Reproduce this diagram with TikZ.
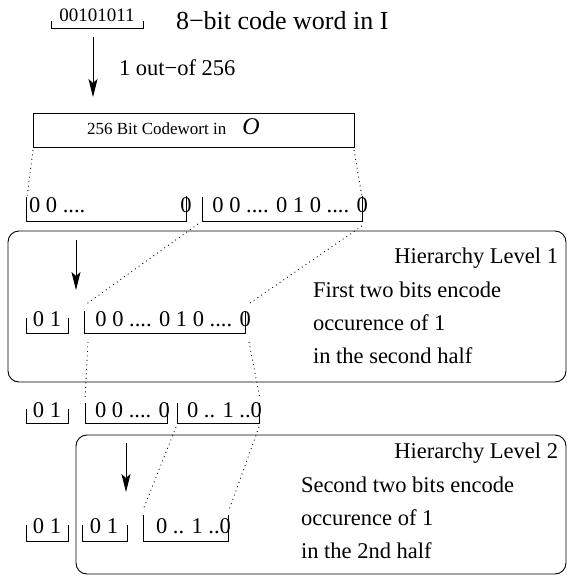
\documentclass[tikz,border=0pt]{standalone}
\usepackage{fontspec}
\setmainfont{Liberation Serif}
\usetikzlibrary{arrows.meta}
\begin{document}
\begin{tikzpicture}[x=1pt,y=-1pt,
  every node/.style={inner sep=0pt,outer sep=0pt},
  txt/.style={font=\fontsize{22.5}{27}\selectfont},
  smalltxt/.style={font=\fontsize{19}{22}\selectfont},
  bigtxt/.style={font=\fontsize{26}{31}\selectfont},
  boxtxt/.style={font=\fontsize{17}{20}\selectfont},
  brk/.style={line width=0.9pt},
  dots/.style={line width=0.9pt, dash pattern=on 0.9pt off 3.6pt},
  arr/.style={line width=0.9pt,-{Stealth[length=18pt,width=9pt,inset=4pt]}},
  level/.style={draw,line width=0.9pt,rounded corners=11pt,anchor=north west},
]
\useasboundingbox (0,0) rectangle (571,576);

% top code word
\node[smalltxt,anchor=base] (code) at (97,21) {00101011};
\draw[brk] (51,21) |- (143,28) -- (143,21);
\node[bigtxt,anchor=base west] (codelbl) at (176,29) {8−bit code word in I};

% arrow 1
\coordinate (a1s) at (93,37);
\coordinate (a1e) at (93,97);
\draw[arr] (a1s) -- (a1e);
\node[txt,anchor=base west] (a1lbl) at (119,75) {1 out−of 256};

% 256 bit box
\node[draw,brk,anchor=north west,minimum width=321pt,minimum height=34pt] (box) at (33,113) {};
\node[boxtxt,anchor=base west] (boxlbl) at (87,134) {256 Bit Codewort in\hspace{16pt}{\fontsize{24}{28}\selectfont\itshape O}};

% row 1
\draw[brk] (26,197) |- (186,221) -- (186,196);
\node[txt,anchor=base west] (r1a) at (29,212) {0 0 ....};
\node[txt,anchor=base] (r1b) at (186,212) {0};
\draw[brk] (202,197) |- (362,221) -- (362,196);
\node[txt,anchor=base east] (r1c) at (368,212) {0 0 .... 0 1 0 .... 0};

% dotted from box to row 1
\coordinate (d1s) at (33,150); \coordinate (d1e) at (27,197);
\coordinate (d2s) at (354,150); \coordinate (d2e) at (362,197);
\draw[dots] (d1s) -- (d1e);
\draw[dots] (d2s) -- (d2e);

% level 1 box
\node[level,minimum width=558pt,minimum height=151pt] (lev1) at (8,231) {};
\coordinate (a2s) at (76,240);
\coordinate (a2e) at (76,290);
\draw[arr] (a2s) -- (a2e);
\node[txt,anchor=base east] (h1) at (558,263) {Hierarchy Level 1};
\node[txt,anchor=base west] (t1a) at (313,297) {First two bits encode};
\node[txt,anchor=base west] (t1b) at (313,330) {occurence of 1};
\node[txt,anchor=base west] (t1c) at (313,363) {in the second half};

% level 1 row
\draw[brk] (26,318) |- (68,333) -- (68,318);
\node[txt,anchor=base] (l1a) at (47,326) {0 1};
\draw[brk] (84,311) |- (245,333) -- (245,311);
\node[txt,anchor=base east] (l1b) at (251,326) {0 0 .... 0 1 0 .... 0};

% dotted row 1 -> level 1
\coordinate (d3s) at (198,224); \coordinate (d3e) at (85,305);
\coordinate (d4s) at (362,226); \coordinate (d4e) at (250,303);
\draw[dots] (d3s) -- (d3e);
\draw[dots] (d4s) -- (d4e);

% dotted level 1 -> row 2
\coordinate (d5s) at (88,342); \coordinate (d5e) at (85,399);
\coordinate (d6s) at (249,342); \coordinate (d6e) at (260,399);
\draw[dots] (d5s) -- (d5e);
\draw[dots] (d6s) -- (d6e);

% row 2
\draw[brk] (26,409) |- (68,423) -- (68,409);
\node[txt,anchor=base] (r2a) at (47,417) {0 1};
\draw[brk] (85,403) |- (167,423) -- (167,403);
\node[txt,anchor=base east] (r2b) at (170,417) {0 0 .... 0};
\draw[brk] (177,403) |- (259,423) -- (259,403);
\node[txt,anchor=base east] (r2c) at (262,417) {0 .. 1 ..0};

% level 2 box
\node[level,minimum width=490pt,minimum height=139pt] (lev2) at (76,435) {};
\coordinate (a3s) at (126,443);
\coordinate (a3e) at (126,492);
\draw[arr] (a3s) -- (a3e);
\node[txt,anchor=base east] (h2) at (558,458) {Hierarchy Level 2};
\node[txt,anchor=base west] (t2a) at (301,492) {Second two bits encode};
\node[txt,anchor=base west] (t2b) at (301,525) {occurence of 1};
\node[txt,anchor=base west] (t2c) at (301,558) {in the 2nd half};

% dotted row 2 -> level 2
\coordinate (d7s) at (176,427); \coordinate (d7e) at (143,510);
\coordinate (d8s) at (259,427); \coordinate (d8e) at (229,510);
\draw[dots] (d7s) -- (d7e);
\draw[dots] (d8s) -- (d8e);

% level 2 row
\draw[brk] (26,525) |- (68,541) -- (68,525);
\node[txt,anchor=base] (l2a) at (47,533) {0 1};
\draw[brk] (82,525) |- (127,541) -- (127,525);
\node[txt,anchor=base] (l2b) at (104,533) {0 1};
\draw[brk] (143,515) |- (228,541) -- (228,515);
\node[txt,anchor=base east] (l2c) at (231,533) {0 .. 1 ..0};
\end{tikzpicture}
\end{document}
